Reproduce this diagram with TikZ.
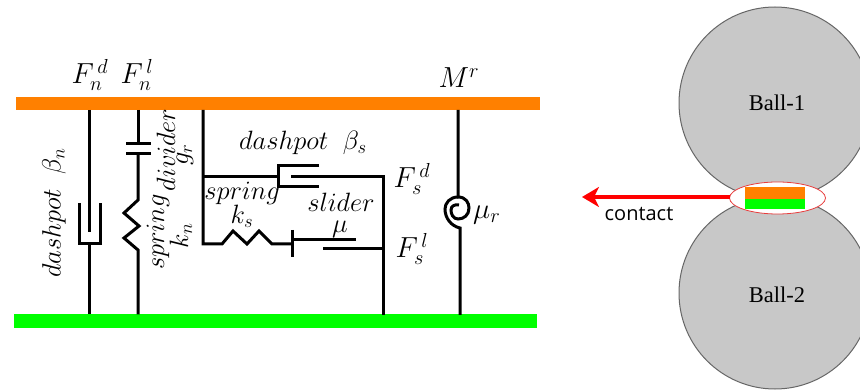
\RequirePackage{fix-cm}
\documentclass[tikz,border=0pt]{standalone}
\usepackage{fontspec}
\newfontfamily\ballfont{Liberation Serif}
\newfontfamily\contactfont{Open Sans}
\usetikzlibrary{arrows.meta,positioning,calc,shapes.geometric}
\definecolor{barorange}{RGB}{255,128,0}
\definecolor{bargreen}{RGB}{0,255,0}
\definecolor{ballgray}{RGB}{200,200,200}
\definecolor{zonered}{RGB}{232,60,60}
\newcommand{\mechsize}{\fontsize{26.5}{30}\selectfont}
\newcommand{\forcesize}{\fontsize{29}{33}\selectfont}
\tikzset{
	mech/.style = {line width=3pt, line cap=butt, line join=miter}, % the black lines of the rheology model
	bar/.style = {fill, inner sep=0pt, outer sep=0pt, anchor=north west},
	ball/.style = {circle, draw=black!60, line width=1pt, fill=ballgray, inner sep=0pt},
	mech label/.style = {inner sep=0pt, font=\mechsize, align=center},
	force label/.style = {inner sep=0pt, font=\forcesize}
}
\begin{document}
\begin{tikzpicture}[x=1pt,y=-1pt]
	\useasboundingbox (0,0) rectangle (860,390);
	\clip (0,0) rectangle (860,390);
	% bars
	\node[bar, fill=barorange, minimum width=524pt, minimum height=13pt] (top) at (16,97) {};
	\node[bar, fill=bargreen, minimum width=523pt, minimum height=13pt] (bottom) at (14,314.5) {};
	% normal dashpot
	\coordinate (dn1) at (89,110);
	\coordinate (dn2) at (89,232);
	\coordinate (dn3) at (89,244);
	\coordinate (dn4) at (89,314.5);
	\draw[mech] (dn1) -- (dn2);
	\draw[mech] (79,203) -- (79,244) -- (100,244) -- (100,203);
	\draw[mech] (dn3) -- (dn4);
	% divider and normal spring
	\coordinate (sn1) at (138,110);
	\coordinate (sn2) at (138,144);
	\coordinate (sn3) at (138,154);
	\coordinate (sn4) at (138,314.5);
	\draw[mech] (sn1) -- (sn2);
	\draw[mech] (126,144) -- (151,144);
	\draw[mech] (126,154) -- (151,154);
	\draw[mech] (sn3) -- (138,200) -- (124,213) -- (139,226) -- (124,238) -- (138,250) -- (sn4);
	% tangential part
	\coordinate (fr1) at (203,110);
	\coordinate (fr2) at (203,177);
	\coordinate (fr3) at (203,244);
	\coordinate (rt1) at (383,177);
	\coordinate (rt2) at (383,249);
	\coordinate (rt3) at (383,315);
	\draw[mech] (fr1) -- (fr3) -- (222,244) -- (233,231) -- (247,244) -- (259,231) -- (272,244) -- (292,244);
	\draw[mech] (fr2) -- (278,177);
	\draw[mech] (319,166) -- (278,166) -- (278,187) -- (319,187);
	\draw[mech] (291,177) -- (rt1) -- (rt3);
	\draw[mech] (292,230) -- (292,257);
	\draw[mech] (292,240) -- (356,240);
	\draw[mech] (323,249) -- (rt2);
	% rolling part
	\coordinate (ro1) at (458,110);
	\coordinate (ro2) at (458,197);
	\coordinate (ro3) at (460,228);
	\coordinate (ro4) at (460,315);
	\draw[mech] (ro1) -- (ro2) .. controls (466,197) and (469,203) .. (469,208)
		.. controls (469,215) and (464,219) .. (458,219)
		.. controls (453,219) and (451,214) .. (451,210)
		.. controls (451,206) and (455,204) .. (459,205);
	\draw[mech] (ro2) .. controls (450,197) and (445,203) .. (445,209)
		.. controls (445,218) and (451,226) .. (ro3) -- (ro4);
	% labels
	\node[force label] (fnd) at (90,75) {$F_n^{\,d}$};
	\node[force label] (fnl) at (137,75) {$F_n^{\,l}$};
	\node[force label] (mr) at (459,78) {$M^r$};
	\node[force label] (fsd) at (412,179) {$F_s^{\,d}$};
	\node[force label] (fsl) at (412,249) {$F_s^{\,l}$};
	\node[force label, anchor=west] (mur) at (473,215) {$\mu_r$};
	\node[mech label, rotate=90] (dpn) at (54,213) {$dashpot\;\;\beta_n$};
	\node[mech label, rotate=90] (spn) at (158,232) {$spring$};
	\node[mech label, rotate=90] (kn) at (181,236) {$k_n$};
	\node[mech label, rotate=90] (dv) at (166,150) {$divider$};
	\node[mech label, rotate=90] (gr) at (185,155) {$g_r$};
	\node[mech label] (dps) at (303,143) {$dashpot\;\;\beta_s$};
	\node[mech label] (sps) at (242,193) {$spring$};
	\node[mech label] (ks) at (242,216) {$k_s$};
	\node[mech label] (sl) at (341,202) {$slider$};
	\node[mech label] (mu) at (340,229) {$\mu$};
	% balls
	\node[ball, minimum size=192pt] (ball1) at (775,103) {};
	\node[ball, minimum size=192pt] (ball2) at (775,293) {};
	\node[font=\ballfont\fontsize{22.5}{26}\selectfont, inner sep=0pt] (b1) at (777,103) {Ball-1};
	\node[font=\ballfont\fontsize{22.5}{26}\selectfont, inner sep=0pt] (b2) at (777,295) {Ball-2};
	% contact zone
	\node[ellipse, draw=zonered, line width=.8pt, fill=white, minimum width=96pt, minimum height=32pt, inner sep=0pt] (zone) at (777.5,198) {};
	\fill[barorange] (745,187) rectangle (805,199);
	\fill[bargreen] (745,199) rectangle (805,209);
	\coordinate (tip) at (582,197);
	\coordinate (tail) at (729.5,197);
	\draw[-{Stealth[length=17pt,width=20pt,inset=5pt]}, red, line width=3.8pt] (tail) -- (tip);
	\node[font=\contactfont\fontsize{20}{24}\selectfont, inner sep=0pt] (cnt) at (639,214) {contact};
\end{tikzpicture}
\end{document}
